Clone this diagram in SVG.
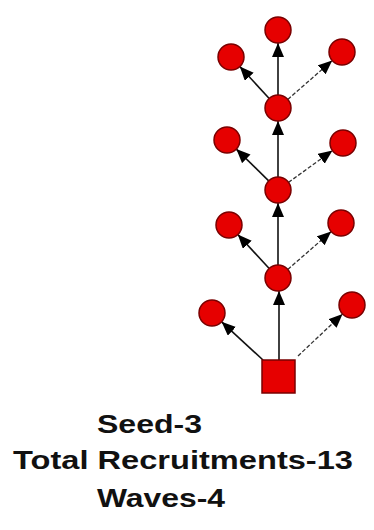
<svg xmlns="http://www.w3.org/2000/svg" width="374" height="530" viewBox="0 0 374 530">
<style>
.node{fill:#e60000;stroke:#7a0000;stroke-width:1.5}
.edge{stroke:#111;stroke-width:1.6;fill:none;marker-end:url(#ah)}
.dash{stroke-dasharray:4 2;stroke:#333;stroke-width:1.3}
.lbl{font-family:"Liberation Sans",Arial,sans-serif;font-weight:bold;font-size:26px;fill:#111}
</style>
<defs>
<marker id="ah" markerUnits="userSpaceOnUse" markerWidth="15" markerHeight="13" refX="14" refY="6" orient="auto">
<path d="M0,0 L14,6 L0,12 z" fill="#000"/>
</marker>
</defs>
<rect width="374" height="530" fill="#fff"/>
<g id="connectors">
<line class="edge" x1="279" y1="360" x2="279" y2="291"/>
<line class="edge" x1="263" y1="360" x2="221.6" y2="321.8"/>
<line class="edge dash" x1="298" y1="356" x2="342.6" y2="313.9"/>
<line class="edge" x1="278" y1="265" x2="278" y2="203"/>
<line class="edge" x1="269.2" y1="268.5" x2="237.8" y2="234.5"/>
<line class="edge dash" x1="287.8" y1="269.4" x2="331.2" y2="231.6"/>
<line class="edge" x1="278" y1="177" x2="278" y2="121"/>
<line class="edge" x1="268.7" y1="180.9" x2="236.3" y2="149.1"/>
<line class="edge dash" x1="288.5" y1="182.4" x2="332.5" y2="150.6"/>
<line class="edge" x1="278" y1="95" x2="278" y2="43"/>
<line class="edge" x1="269.2" y1="98.5" x2="239.8" y2="66.5"/>
<line class="edge dash" x1="287.8" y1="99.4" x2="332.2" y2="60.6"/>
</g>
<g id="seed"><rect class="node" x="262" y="360" width="33" height="33"/></g>
<g id="h3"><circle class="node" cx="278" cy="278" r="13"/></g>
<g id="l4"><circle class="node" cx="212" cy="313" r="13"/></g>
<g id="r4"><circle class="node" cx="352" cy="305" r="13"/></g>
<g id="h2"><circle class="node" cx="278" cy="190" r="13"/></g>
<g id="l3"><circle class="node" cx="229" cy="225" r="13"/></g>
<g id="r3"><circle class="node" cx="341" cy="223" r="13"/></g>
<g id="h1"><circle class="node" cx="278" cy="108" r="13"/></g>
<g id="l2"><circle class="node" cx="227" cy="140" r="13"/></g>
<g id="r2"><circle class="node" cx="343" cy="143" r="13"/></g>
<g id="top"><circle class="node" cx="278" cy="30" r="13"/></g>
<g id="l1"><circle class="node" cx="231" cy="57" r="13"/></g>
<g id="r1"><circle class="node" cx="342" cy="52" r="13"/></g>
<g id="caption">
<text class="lbl" x="97" y="433" textLength="105" lengthAdjust="spacingAndGlyphs">Seed-3</text>
<text class="lbl" x="13" y="469" textLength="340" lengthAdjust="spacingAndGlyphs">Total Recruitments-13</text>
<text class="lbl" x="97" y="507" textLength="128" lengthAdjust="spacingAndGlyphs">Waves-4</text>
</g>
</svg>
